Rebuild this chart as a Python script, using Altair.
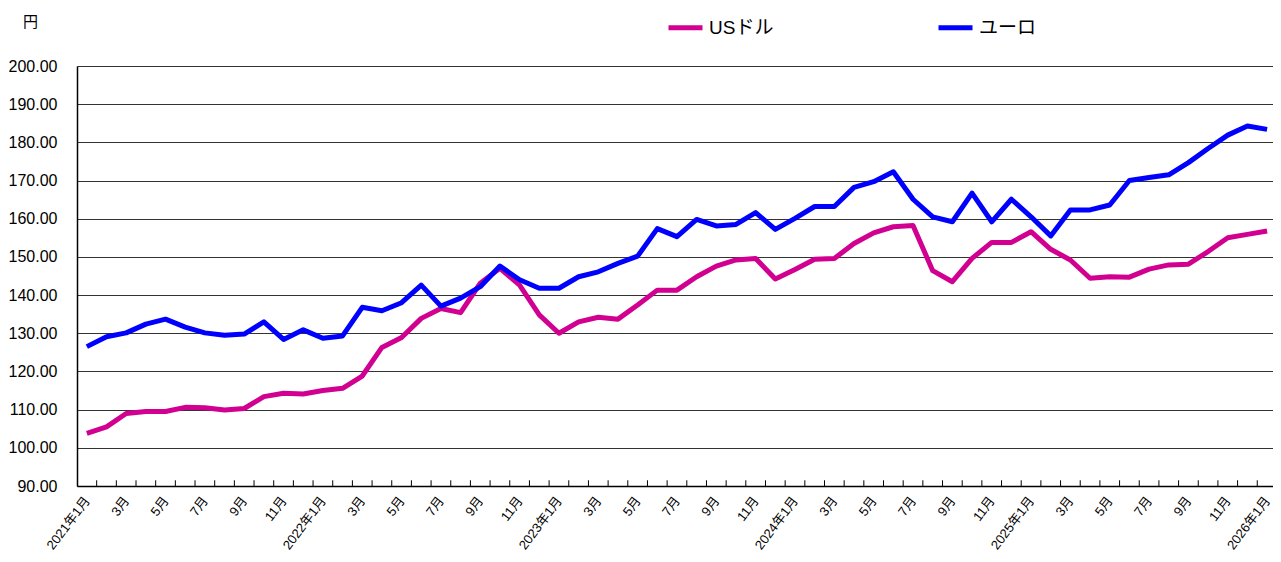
import altair as alt
import pandas as pd

# ---- data ----
series_names = ["USドル", "ユーロ"]
series_colors = ["#D10090", "#0000FF"]

usd = [103.8, 105.5, 109.0, 109.5, 109.5, 110.6, 110.5, 109.9, 110.3, 113.4, 114.3, 114.1,
       115.0, 115.6, 118.8, 126.3, 128.9, 133.9, 136.5, 135.4, 143.1, 147.0, 142.6, 134.8,
       130.0, 133.0, 134.2, 133.7, 137.4, 141.3, 141.3, 144.8, 147.6, 149.2, 149.6, 144.2,
       146.7, 149.4, 149.6, 153.5, 156.3, 157.9, 158.2, 146.4, 143.5, 149.6, 153.8, 153.8,
       156.6, 152.0, 149.2, 144.4, 144.8, 144.7, 146.8, 147.9, 148.1, 151.4, 155.0, 155.9,
       156.8]

eur = [126.5, 129.1, 130.1, 132.4, 133.7, 131.6, 130.1, 129.5, 129.8, 133.0, 128.4, 130.9,
       128.7, 129.3, 136.8, 135.9, 138.0, 142.6, 137.1, 139.2, 142.2, 147.6, 144.0, 141.8,
       141.8, 144.8, 146.1, 148.3, 150.2, 157.4, 155.3, 159.8, 158.1, 158.5, 161.6, 157.2,
       160.1, 163.2, 163.2, 168.2, 169.7, 172.3, 165.1, 160.5, 159.2, 166.7, 159.2, 165.1,
       160.5, 155.5, 162.3, 162.3, 163.6, 170.0, 170.8, 171.5, 174.7, 178.4, 181.9, 184.3,
       183.4]

tick_labels = ["2021年1月", "3月", "5月", "7月", "9月", "11月",
               "2022年1月", "3月", "5月", "7月", "9月", "11月",
               "2023年1月", "3月", "5月", "7月", "9月", "11月",
               "2024年1月", "3月", "5月", "7月", "9月", "11月",
               "2025年1月", "3月", "5月", "7月", "9月", "11月",
               "2026年1月"]

y_ticks = [90, 100, 110, 120, 130, 140, 150, 160, 170, 180, 190, 200]

n = len(usd)
rows = []
for i in range(n):
    rows.append({"idx": i, "series": series_names[0], "value": usd[i]})
    rows.append({"idx": i, "series": series_names[1], "value": eur[i]})
df = pd.DataFrame(rows)

# category boundaries for the inward tick marks
bounds = pd.DataFrame({"b": [i + 0.5 for i in range(n - 1)], "y0": 90, "y1": 91.5})

FONT = "Liberation Sans, Noto Sans CJK JP"

label_arr = "[" + ",".join("'" + t + "'" for t in tick_labels) + "]"

x_scale = alt.Scale(domain=[-0.5, 60.3], nice=False, zero=False)
y_scale = alt.Scale(domain=[90, 200], nice=False, zero=False)

x_axis = alt.Axis(values=list(range(0, n, 2)), labelExpr=label_arr + "[datum.value/2]",
                  title=None, grid=False, ticks=False, tickSize=0,
                  labelAngle=-53, labelAlign="right", labelBaseline="middle",
                  labelPadding=12, labelFontSize=13, labelColor="#000",
                  labelFont=FONT, domainColor="#000", domainWidth=1.5,
                  labelOverlap=False, labelBound=False, labelFlush=False)

y_axis = alt.Axis(values=y_ticks, format=".2f", title="円", titleAngle=0,
                  titleX=-47, titleY=-40, titleAlign="center",
                  titleBaseline="alphabetic", titleFontSize=15,
                  titleFontWeight="normal", titleFont=FONT, titleColor="#000",
                  grid=True, gridColor="#333333", gridWidth=1,
                  ticks=False, tickSize=0, labelPadding=20, labelOverlap=False,
                  labelFontSize=16, labelFont=FONT, labelColor="#000",
                  domainColor="#000", domainWidth=1.5)

lines = alt.Chart(df).mark_line(strokeWidth=5, strokeJoin="round").encode(
    x=alt.X("idx:Q", scale=x_scale, axis=x_axis),
    y=alt.Y("value:Q", scale=y_scale, axis=y_axis),
    color=alt.Color("series:N",
                    scale=alt.Scale(domain=series_names, range=series_colors),
                    legend=alt.Legend(title=None, orient="none", legendX=589, legendY=-58,
                                      direction="horizontal", symbolType="stroke",
                                      symbolStrokeWidth=5, symbolSize=1156,
                                      labelFontSize=19, labelFont=FONT, labelColor="#000",
                                      labelOffset=4, columnPadding=154)),
)

ticks = alt.Chart(bounds).mark_rule(color="#000", strokeWidth=1).encode(
    x=alt.X("b:Q", scale=x_scale, axis=x_axis),
    y=alt.Y("y0:Q", scale=y_scale, axis=y_axis),
    y2="y1:Q",
)

chart = alt.layer(lines, ticks).properties(
    width=1196, height=420,
    autosize=alt.AutoSizeParams(type="none"),
    padding={"left": 69, "top": 58, "right": 0, "bottom": 66},
).configure_view(stroke=None).configure(background="white")

chart.save("out.html", embed_options={"renderer": "svg", "actions": False})
